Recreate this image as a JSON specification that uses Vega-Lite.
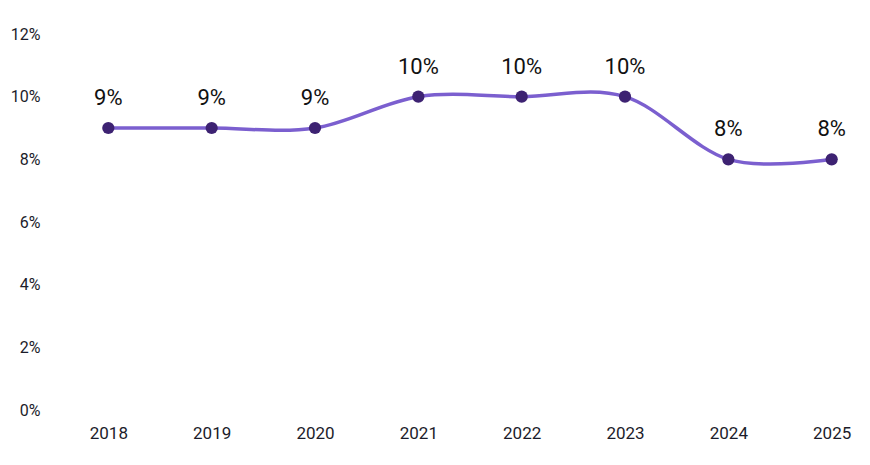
{
  "$schema": "https://vega.github.io/schema/vega-lite/v6.json",
  "width": 806,
  "height": 376,
  "autosize": "none",
  "padding": {"left": 67, "top": 34, "right": 0, "bottom": 55},
  "background": "white",
  "config": {"view": {"stroke": null}, "font": "Roboto"},
  "data": {"values": [
    {"year": "2018", "value": 0.09},
    {"year": "2019", "value": 0.09},
    {"year": "2020", "value": 0.09},
    {"year": "2021", "value": 0.10},
    {"year": "2022", "value": 0.10},
    {"year": "2023", "value": 0.10},
    {"year": "2024", "value": 0.08},
    {"year": "2025", "value": 0.08}
  ]},
  "encoding": {
    "x": {"field": "year", "type": "ordinal", "scale": {"type": "point", "padding": 0.4},
      "axis": {"title": null, "labelAngle": 0, "domain": false, "ticks": false, "labelFontSize": 17, "labelColor": "#1c1c2a", "labelPadding": 15, "labelFont": "Roboto", "labelFontWeight": 400}},
    "y": {"field": "value", "type": "quantitative", "scale": {"domain": [0, 0.12]},
      "axis": {"title": null, "format": ".0%", "values": [0, 0.02, 0.04, 0.06, 0.08, 0.1, 0.12], "grid": false, "domain": false, "ticks": false, "labelFontSize": 16, "labelColor": "#1c1c2a", "labelPadding": 27, "labelFont": "Roboto", "labelFontWeight": 400}},
    "text": {"field": "value", "type": "quantitative", "format": ".0%"}
  },
  "layer": [
    {"mark": {"type": "line", "interpolate": "cardinal", "color": "#7b5fcf", "strokeWidth": 3.5}, "encoding": {"text": null}},
    {"mark": {"type": "point", "filled": true, "size": 150, "color": "#3d2272", "opacity": 1}, "encoding": {"text": null}},
    {"mark": {"type": "text", "dy": -30, "fontSize": 22, "color": "#111", "font": "Roboto", "fontWeight": 400}}
  ]
}
